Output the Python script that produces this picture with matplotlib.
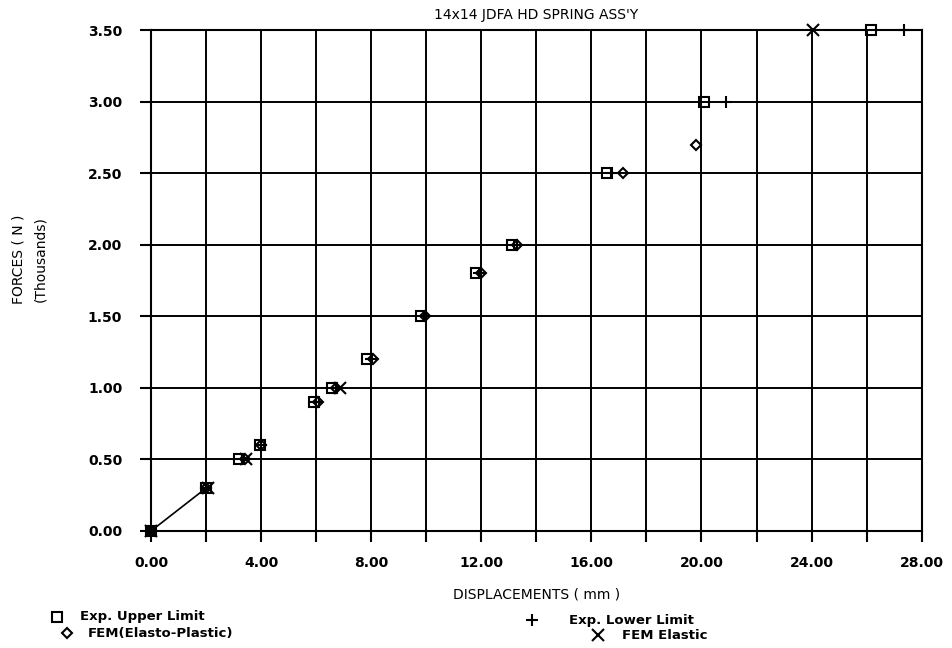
import matplotlib as mpl
mpl.use('Agg')
import matplotlib.pyplot as plt
from matplotlib.lines import Line2D

# données (déplacements en mm, forces en milliers de N)
up_x = [0.0, 2.0, 3.2, 3.95, 5.9, 6.55, 7.85, 9.8, 11.8, 13.1, 16.55, 20.1, 26.15]
up_y = [0.0, 0.3, 0.5, 0.6, 0.9, 1.0, 1.2, 1.5, 1.8, 2.0, 2.5, 3.0, 3.5]

low_x = [0.0, 2.0, 3.3, 4.0, 6.0, 6.7, 8.0, 9.9, 11.9, 13.2, 16.7, 20.9, 27.35]
low_y = [0.0, 0.3, 0.5, 0.6, 0.9, 1.0, 1.2, 1.5, 1.8, 2.0, 2.5, 3.0, 3.5]

ep_x = [0.0, 2.0, 3.4, 4.0, 6.05, 6.7, 8.05, 9.95, 12.0, 13.3, 17.15, 19.8]
ep_y = [0.0, 0.3, 0.5, 0.6, 0.9, 1.0, 1.2, 1.5, 1.8, 2.0, 2.5, 2.7]

el_x = [0.0, 2.05, 3.45, 6.85, 24.05]
el_y = [0.0, 0.3, 0.5, 1.0, 3.5]

xticks = list(range(0, 29, 2))
yticks = [0, 0.5, 1, 1.5, 2, 2.5, 3, 3.5]

plt.rcParams['font.family'] = 'DejaVu Sans'
fig = plt.figure(figsize=(9.52, 6.48), dpi=100)
ax = fig.add_axes([0.159, 0.181, 0.809, 0.772])

# segment du début
ax.plot(up_x[:2], up_y[:2], 'k-', lw=1.2, zorder=3)
ax.plot(el_x, el_y, 'kx', ms=8, mew=1.5, ls='none', zorder=4, clip_on=False)
ax.plot(low_x, low_y, 'k+', ms=9, mew=1.5, ls='none', zorder=4, clip_on=False)
ax.plot(ep_x, ep_y, 'kD', ms=5, mew=1.5, mfc='none', ls='none', zorder=5, clip_on=False)
ax.plot(up_x, up_y, 'ks', ms=7, mew=1.5, mfc='none', ls='none', zorder=6, clip_on=False)

ax.set_xlim(0, 28)
ax.set_ylim(0, 3.5)
ax.set_xticks(xticks)
ax.set_xticklabels(['%.2f' % v if v % 4 == 0 else '' for v in xticks])
ax.set_yticks(yticks)
ax.set_yticklabels(['%.2f' % v for v in yticks])
ax.grid(True, color='k', lw=1.4)
for s in ax.spines.values():
    s.set_linewidth(1.5)
ax.tick_params(direction='out', length=8, width=1.5, labelsize=10)
ax.tick_params(axis='x', pad=10)
ax.tick_params(axis='y', pad=13)
for t in ax.get_xticklabels() + ax.get_yticklabels():
    t.set_fontweight('bold')

ax.set_title("14x14 JDFA HD SPRING ASS'Y", fontsize=10, pad=8)
ax.set_xlabel("DISPLACEMENTS ( mm )", fontsize=10, labelpad=13)
fig.text(0.019, 0.60, "FORCES ( N )", rotation=90, ha='center', va='center', fontsize=10)
fig.text(0.042, 0.60, "(Thousands)", rotation=90, ha='center', va='center', fontsize=10)

# légende en bas
leg = [(0.060, 0.048, 's', 7, "Exp. Upper Limit", 0.084),
       (0.070, 0.023, 'D', 5, "FEM(Elasto-Plastic)", 0.092),
       (0.559, 0.043, '+', 9, "Exp. Lower Limit", 0.598),
       (0.628, 0.020, 'x', 8, "FEM Elastic", 0.653)]
for mx, my, m, ms, lab, tx in leg:
    fig.add_artist(Line2D([mx], [my], marker=m, ms=ms, mew=1.5, mfc='none',
                          color='k', transform=fig.transFigure))
    fig.text(tx, my, lab, va='center', fontsize=9.5, fontweight='bold')

plt.savefig('out.png')
